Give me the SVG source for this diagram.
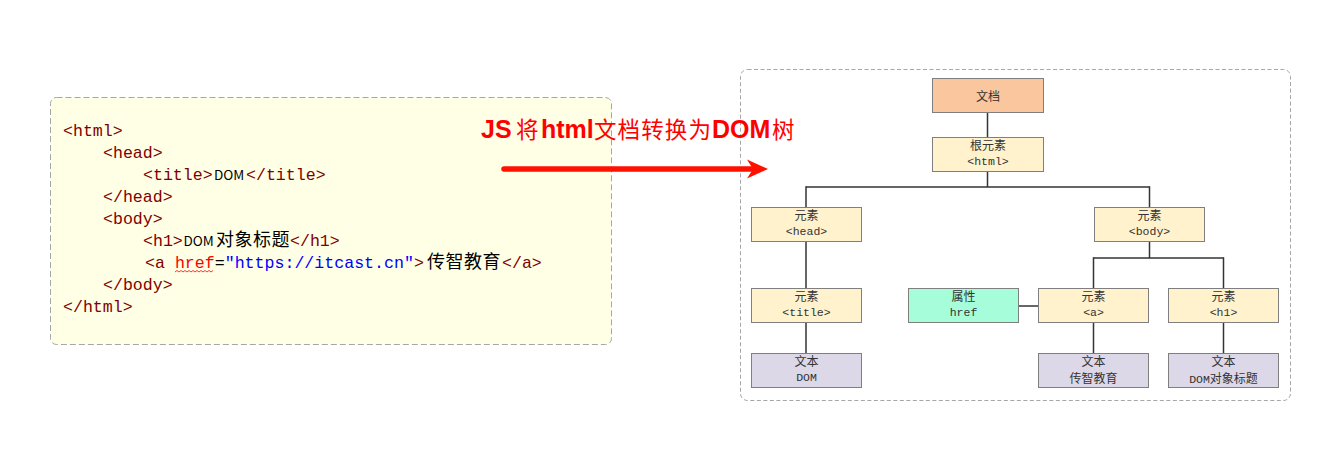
<svg xmlns="http://www.w3.org/2000/svg" width="1325" height="474" viewBox="0 0 1325 474">
<style>
.code{font-family:"Liberation Mono","DejaVu Sans Mono",monospace;font-size:16.6px;fill:#800000}
.cjk{font-family:"Noto Sans CJK SC","Noto Sans",sans-serif;fill:#000}
.title-l{font-family:"Liberation Sans",Arial,sans-serif;font-weight:bold;font-size:25px;fill:#FF0000}
.title-c{font-family:"Noto Sans CJK SC",sans-serif;font-size:22.5px;fill:#FF0000}
.box{stroke:#7f7f7f;stroke-width:1}
.el{fill:#FFF2CC}
.txt{fill:#DDD8E7}
.attr{fill:#A6FDD9}
.doc{fill:#F9C69D}
.n1{font-family:"Noto Sans CJK SC",sans-serif;font-size:12px;fill:#333;text-anchor:middle}
.n2{font-family:"Liberation Mono","Noto Sans CJK SC",monospace;font-size:11.5px;fill:#333;text-anchor:middle}
.conn line{stroke:#333;stroke-width:1.5}
</style>

<g id="tree-frame">
<rect x="740.5" y="69.5" width="550" height="331" rx="7" fill="#FFFFFF" stroke="#A6A6A6" stroke-width="1" stroke-dasharray="4 2.5"/>
</g>

<g id="code-box">
<rect x="50.5" y="97.5" width="561" height="247" rx="6" fill="#FFFFE6" stroke="#A6A6A6" stroke-width="1" stroke-dasharray="6 3"/>
<text class="code" x="63" y="136">&lt;html&gt;</text>
<text class="code" x="103" y="158">&lt;head&gt;</text>
<text class="code" y="180"><tspan x="143">&lt;title&gt;</tspan><tspan class="cjk" x="214" font-size="13.5">DOM</tspan><tspan x="246">&lt;/title&gt;</tspan></text>
<text class="code" x="103" y="202">&lt;/head&gt;</text>
<text class="code" x="103" y="224">&lt;body&gt;</text>
<text class="code" y="246"><tspan x="143">&lt;h1&gt;</tspan><tspan class="cjk" x="183.5" font-size="13.5">DOM</tspan><tspan class="cjk" x="216" font-size="18">对</tspan><tspan class="cjk" x="234.5" font-size="18">象</tspan><tspan class="cjk" x="253" font-size="18">标</tspan><tspan class="cjk" x="271.5" font-size="18">题</tspan><tspan x="290">&lt;/h1&gt;</tspan></text>
<text class="code" y="268"><tspan x="145">&lt;a </tspan><tspan fill="#FF0000">href</tspan><tspan fill="#000">=</tspan><tspan fill="#0000FF">"https://itcast.cn"</tspan>&gt;<tspan class="cjk" x="427" font-size="18">传</tspan><tspan class="cjk" x="445.5" font-size="18">智</tspan><tspan class="cjk" x="464" font-size="18">教</tspan><tspan class="cjk" x="482.5" font-size="18">育</tspan><tspan x="502">&lt;/a&gt;</tspan></text>
<polyline points="175,272 177,270.5 179,272 181,270.5 183,272 185,270.5 187,272 189,270.5 191,272 193,270.5 195,272 197,270.5 199,272 201,270.5 203,272 205,270.5 207,272 209,270.5 211,272 213,270.5" fill="none" stroke="#FF0000" stroke-width="0.8"/>
<text class="code" x="103" y="290">&lt;/body&gt;</text>
<text class="code" x="63" y="312">&lt;/html&gt;</text>
</g>

<g id="title">
<text y="138"><tspan class="title-l" x="481">JS</tspan><tspan class="title-c" x="516">将</tspan><tspan class="title-l" x="541">html</tspan><tspan class="title-c" x="594" textLength="117" lengthAdjust="spacing">文档转换为</tspan><tspan class="title-l" x="712">DOM</tspan><tspan class="title-c" x="772">树</tspan></text>
</g>

<g id="arrow">
<line x1="504" y1="169" x2="756" y2="169" stroke="#FF1100" stroke-width="5.5" stroke-linecap="round"/>
<polygon points="768,169 747,159.5 753,169 747,178.5" fill="#FF1100"/>
</g>

<g class="conn" id="connectors">
<line x1="987.5" y1="113" x2="987.5" y2="137"/>
<line x1="987.5" y1="171" x2="987.5" y2="187"/>
<line x1="806" y1="187" x2="1149.5" y2="187"/>
<line x1="806" y1="186.25" x2="806" y2="207"/>
<line x1="1149.5" y1="186.25" x2="1149.5" y2="207"/>
<line x1="806" y1="242" x2="806" y2="288"/>
<line x1="806" y1="323" x2="806" y2="353"/>
<line x1="1149.5" y1="242" x2="1149.5" y2="258"/>
<line x1="1093.5" y1="258" x2="1223.5" y2="258"/>
<line x1="1093.5" y1="257.25" x2="1093.5" y2="288"/>
<line x1="1223.5" y1="257.25" x2="1223.5" y2="288"/>
<line x1="1093.5" y1="323" x2="1093.5" y2="353"/>
<line x1="1223.5" y1="323" x2="1223.5" y2="353"/>
<line x1="1019" y1="306" x2="1038" y2="306"/>
</g>

<g id="node-doc">
<rect class="box doc" x="932.5" y="78.5" width="111" height="34"/>
<text class="n1" x="988" y="101" font-size="16">文档</text>
</g>
<g id="node-html">
<rect class="box el" x="932.5" y="137.5" width="111" height="34"/>
<text class="n1" x="988" y="150">根元素</text>
<text class="n2" x="988" y="165">&lt;html&gt;</text>
</g>
<g id="node-head">
<rect class="box el" x="751.5" y="207.5" width="110" height="34"/>
<text class="n1" x="806.5" y="220">元素</text>
<text class="n2" x="806.5" y="235">&lt;head&gt;</text>
</g>
<g id="node-body">
<rect class="box el" x="1094.5" y="207.5" width="110" height="34"/>
<text class="n1" x="1149.5" y="220">元素</text>
<text class="n2" x="1149.5" y="235">&lt;body&gt;</text>
</g>
<g id="node-title">
<rect class="box el" x="751.5" y="288.5" width="110" height="34"/>
<text class="n1" x="806.5" y="301">元素</text>
<text class="n2" x="806.5" y="316">&lt;title&gt;</text>
</g>
<g id="node-text-dom">
<rect class="box txt" x="751.5" y="353.5" width="110" height="34"/>
<text class="n1" x="806.5" y="366">文本</text>
<text class="n2" x="806.5" y="381">DOM</text>
</g>
<g id="node-href">
<rect class="box attr" x="908.5" y="288.5" width="110" height="34"/>
<text class="n1" x="963.5" y="301">属性</text>
<text class="n2" x="963.5" y="316">href</text>
</g>
<g id="node-a">
<rect class="box el" x="1038.5" y="288.5" width="110" height="34"/>
<text class="n1" x="1093.5" y="301">元素</text>
<text class="n2" x="1093.5" y="316">&lt;a&gt;</text>
</g>
<g id="node-h1">
<rect class="box el" x="1168.5" y="288.5" width="110" height="34"/>
<text class="n1" x="1223.5" y="301">元素</text>
<text class="n2" x="1223.5" y="316">&lt;h1&gt;</text>
</g>
<g id="node-text-a">
<rect class="box txt" x="1038.5" y="353.5" width="110" height="34"/>
<text class="n1" x="1093.5" y="365.5">文本</text>
<text class="n1" x="1093.5" y="383">传智教育</text>
</g>
<g id="node-text-h1">
<rect class="box txt" x="1168.5" y="353.5" width="110" height="34"/>
<text class="n1" x="1223.5" y="365.5">文本</text>
<text class="n1" x="1223.5" y="383"><tspan font-family="Liberation Mono,monospace" font-size="11.5">DOM</tspan>对象标题</text>
</g>
</svg>
